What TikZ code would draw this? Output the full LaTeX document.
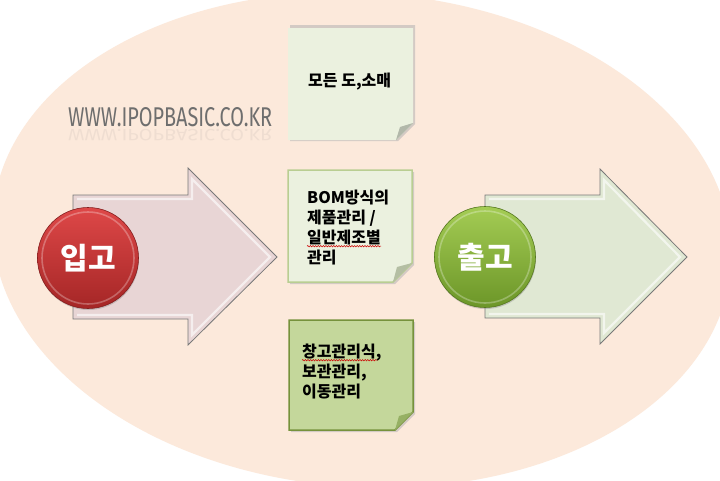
\documentclass[tikz,border=0pt]{standalone}
\usepackage{fontspec}
\usepackage{graphicx}
\usetikzlibrary{decorations.pathmorphing,shadows}
\newfontfamily\kr{Noto Sans CJK KR}
\newfontfamily\urlfont{Fira Sans}
\definecolor{peach}{RGB}{252,233,219}
\definecolor{pinkarrow}{RGB}{232,213,213}
\definecolor{greenarrow}{RGB}{224,232,211}
\definecolor{arrowedge}{RGB}{120,120,120}
\definecolor{notelight}{RGB}{235,241,223}
\definecolor{notemid}{RGB}{196,215,155}
\definecolor{noteedgedark}{RGB}{118,146,60}
\definecolor{noteedgelight}{RGB}{185,206,146}
\definecolor{foldgray}{RGB}{178,184,170}
\definecolor{foldgreen}{RGB}{150,176,100}
\definecolor{redtop}{RGB}{222,72,72}
\definecolor{redbot}{RGB}{165,38,38}
\definecolor{greentop}{RGB}{164,204,84}
\definecolor{greenbot}{RGB}{108,150,40}
\definecolor{urlgray}{RGB}{110,110,110}
\tikzset{
  arrowshape/.style={draw=arrowedge, line width=0.8pt, line join=miter},
  bevel/.style={draw=white, opacity=0.6, line width=2.2pt, line join=miter},
  ball/.style={circle, minimum size=101pt, inner sep=0pt, text=white,
    font=\kr\bfseries\fontsize{30}{30}\selectfont,
    drop shadow={opacity=0.35, shadow xshift=0.5pt, shadow yshift=-1.5pt}},
  redball/.style={ball, top color=redtop, bottom color=redbot, draw=redbot!80!black, line width=0.6pt},
  greenball/.style={ball, top color=greentop, bottom color=greenbot, draw=greenbot!80!black, line width=0.6pt},
  ring/.style={draw=white, opacity=0.28, line width=1.6pt},
  notetext/.style={anchor=base west, inner sep=0pt, text=black, font=\kr\bfseries\fontsize{16}{20}\selectfont},
  shadowfill/.style={fill=gray!60, opacity=0.55},
  spell/.style={draw=red!80!black, line width=0.5pt, decorate,
    decoration={snake, amplitude=0.7pt, segment length=2.6pt}},
  urlstyle/.style={inner sep=0pt, text=urlgray}
}
\begin{document}
\begin{tikzpicture}[x=1pt,y=-1pt]
\useasboundingbox (0,0) rectangle (720,480);
\fill[white] (0,0) rectangle (720,480);
\begin{scope}
  \clip (0,0) rectangle (720,480);
  \fill[peach, rotate around={-4:(362,240)}] (362,240) ellipse [x radius=370, y radius=247];
\end{scope}

% web address and its reflection
\node[urlstyle, anchor=base west] (url) at (68,126)
  {\resizebox{204pt}{19pt}{\urlfont WWW.IPOPBASIC.CO.KR}};
\node[urlstyle, anchor=base west, opacity=0.09] (urlr) at (68,129)
  {\scalebox{1}[-0.6]{\resizebox{204pt}{19pt}{\urlfont WWW.IPOPBASIC.CO.KR}}};

% left (pink) arrow
\path[arrowshape, fill=pinkarrow] (73,195) -- (188,195) -- (188,168) -- (277,257)
  -- (188,345) -- (188,319) -- (73,319) -- cycle;
\draw[bevel] (77,199) -- (192,199) -- (192,179) -- (270,257) -- (192,335) -- (192,315) -- (77,315);

% right (green) arrow
\path[arrowshape, fill=greenarrow] (485,195) -- (600,195) -- (600,169) -- (687,257)
  -- (600,344) -- (600,318) -- (485,318) -- cycle;
\draw[bevel] (489,199) -- (604,199) -- (604,180) -- (680,257) -- (604,333) -- (604,314) -- (489,314);

% balls
\node[redball] (in) at (88,258) {입고};
\draw[ring] (in.center) circle [radius=46];
\node[greenball] (out) at (485,257) {출고};
\draw[ring] (out.center) circle [radius=46];

% note 1 (top)
\fill[shadowfill] (290,25) -- (415,25) -- (415,124) -- (398,141) -- (290,141) -- cycle;
\fill[notelight] (288,28) -- (413,28) -- (413,123) -- (396,140) -- (288,140) -- cycle;
\fill[foldgray] (413,123) -- (396,140) -- (400,127) -- cycle;
\node[notetext] (t1) at (308,86) {모든 도,소매};

% note 2 (middle)
\fill[shadowfill] (290,172) -- (414,172) -- (414,265) -- (395,284) -- (290,284) -- cycle;
\path[fill=notelight, draw=noteedgelight, line width=1.5pt, line join=miter]
  (288,170) -- (412,170) -- (412,263) -- (393,282) -- (288,282) -- cycle;
\fill[foldgray!70!noteedgelight] (412,263) -- (393,282) -- (397,267) -- cycle;
\node[notetext] (b1) at (307,203) {BOM방식의};
\node[notetext] (b2) at (307,223) {제품관리 /};
\node[notetext] (b3) at (307,243) {일반제조별};
\node[notetext] (b4) at (307,263) {관리};
\draw[spell] ([yshift=-3.2pt]b3.base west) -- ([yshift=-3.2pt]b3.base east);

% note 3 (bottom)
\fill[shadowfill] (291,322) -- (415,322) -- (415,414) -- (397,432) -- (291,432) -- cycle;
\path[fill=notemid, draw=noteedgedark, line width=1.5pt, line join=miter]
  (289,320) -- (413,320) -- (413,412) -- (395,430) -- (289,430) -- cycle;
\fill[foldgreen] (413,412) -- (395,430) -- (399,416) -- cycle;
\node[notetext] (c1) at (302,357) {창고관리식,};
\node[notetext] (c2) at (302,377) {보관관리,};
\node[notetext] (c3) at (302,397) {이동관리};
\draw[spell] ([yshift=-3.2pt]c1.base west) -- ([yshift=-3.2pt,xshift=-4pt]c1.base east);
\end{tikzpicture}
\end{document}
